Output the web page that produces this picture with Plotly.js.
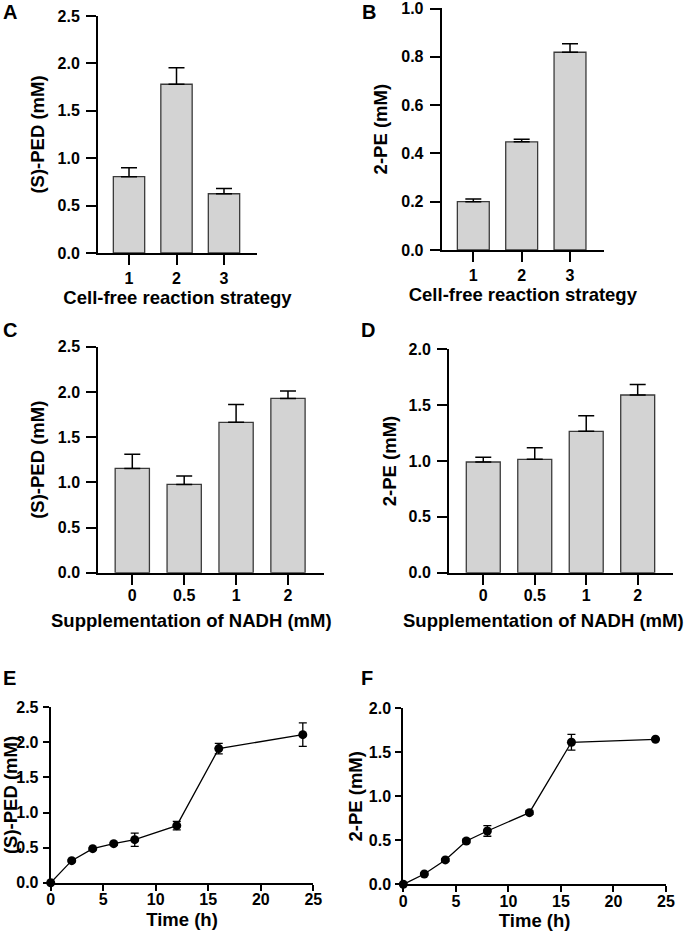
<!DOCTYPE html>
<html>
<head>
<meta charset="utf-8">
<script src="https://cdn.plot.ly/plotly-3.0.1.min.js"></script>
<style>
  html, body { margin: 0; padding: 0; background: #fff; }
  #fig { width: 685px; height: 932px; }
</style>
</head>
<body>
<div id="fig"></div>
<script>
// Panels A/B: cell-free reaction strategy
const strategyCats = ["1", "2", "3"];
const pedStrategy = [0.805, 1.78, 0.625];
const pedStrategySd = [0.095, 0.175, 0.055];
const peStrategy = [0.20, 0.448, 0.819];
const peStrategySd = [0.011, 0.011, 0.035];

// Panels C/D: NADH supplementation (mM)
const nadhCats = ["0", "0.5", "1", "2"];
const pedNadh = [1.154, 0.977, 1.663, 1.928];
const pedNadhSd = [0.155, 0.092, 0.199, 0.082];
const peNadh = [0.991, 1.015, 1.266, 1.591];
const peNadhSd = [0.042, 0.104, 0.14, 0.093];

// Panels E/F: time course
const timeH = [0, 2, 4, 6, 8, 12, 16, 24];
const pedTime = [0, 0.314, 0.485, 0.556, 0.613, 0.813, 1.911, 2.11];
const pedTimeSd = [0, 0.015, 0.015, 0.02, 0.095, 0.06, 0.075, 0.167];
const peTime = [0, 0.117, 0.277, 0.492, 0.606, 0.814, 1.614, 1.648];
const peTimeSd = [0, 0.01, 0.015, 0.02, 0.06, 0.02, 0.09, 0.01];

const W = 685;
const H = 932;
const FONT = "Liberation Sans, Arial, Helvetica, sans-serif";
const BAR_FILL = "#d3d3d3";
const BAR_LINE = "#3a3a3a";
const TICK_SIZE = 16;
const TITLE_SIZE = 18.5;

const tickFont = { family: FONT, size: TICK_SIZE, color: "#000", weight: 700 };
const titleFont = { family: FONT, size: TITLE_SIZE, color: "#000", weight: 700 };

// pixel box -> paper domain
function xDom(x0, x1) { return [x0 / W, x1 / W]; }
function yDom(y0, y1) { return [1 - y1 / H, 1 - y0 / H]; }

function axisBase(extra) {
  return Object.assign({
    showgrid: false,
    zeroline: false,
    showline: true,
    linecolor: "#000",
    linewidth: 2,
    ticks: "outside",
    tickcolor: "#000",
    tickwidth: 2,
    tickfont: tickFont,
    fixedrange: true,
  }, extra);
}

function axTitle(text, standoff) {
  return { text: text, font: titleFont, standoff: standoff };
}

function barTrace(cats, vals, sd, xa, ya) {
  return {
    type: "bar",
    x: cats,
    y: vals,
    xaxis: xa,
    yaxis: ya,
    width: 0.66,
    marker: { color: BAR_FILL, line: { color: BAR_LINE, width: 1.3 } },
    error_y: {
      type: "data",
      symmetric: false,
      array: sd,
      arrayminus: sd.map(function () { return 0; }),
      color: "#000",
      thickness: 1.5,
      width: 8,
    },
  };
}

function lineTrace(x, y, sd, xa, ya) {
  return {
    type: "scatter",
    mode: "lines+markers",
    x: x,
    y: y,
    xaxis: xa,
    yaxis: ya,
    cliponaxis: false,
    line: { color: "#000", width: 1.3 },
    marker: { color: "#000", size: 9 },
    error_y: { type: "data", array: sd, color: "#000", thickness: 1.3, width: 4 },
  };
}

const data = [
  barTrace(strategyCats, pedStrategy, pedStrategySd, "x", "y"),
  barTrace(strategyCats, peStrategy, peStrategySd, "x2", "y2"),
  barTrace(nadhCats, pedNadh, pedNadhSd, "x3", "y3"),
  barTrace(nadhCats, peNadh, peNadhSd, "x4", "y4"),
  lineTrace(timeH, pedTime, pedTimeSd, "x5", "y5"),
  lineTrace(timeH, peTime, peTimeSd, "x6", "y6"),
];

function paperText(text, px, py, size) {
  return {
    text: text, xref: "paper", yref: "paper",
    x: px / W, y: 1 - py / H, xanchor: "center", yanchor: "middle",
    showarrow: false,
    font: { family: FONT, size: size, color: "#000", weight: 700 },
  };
}

const layout = {
  width: W,
  height: H,
  margin: { l: 0, r: 0, t: 0, b: 0 },
  paper_bgcolor: "#fff",
  plot_bgcolor: "rgba(0,0,0,0)",
  showlegend: false,

  // A
  xaxis: axisBase({ anchor: "y", domain: xDom(98, 257), type: "category", range: [-0.653, 2.695],
    ticklen: 10, ticklabelstandoff: 0, title: axTitle("Cell-free reaction strategy", 4) }),
  yaxis: axisBase({ anchor: "x", domain: yDom(16, 253), range: [0, 2.5], dtick: 0.5, tickformat: ".1f",
    ticklen: 10, ticklabelstandoff: 3, title: axTitle("(S)-PED (mM)", 8) }),

  // B
  xaxis2: axisBase({ anchor: "y2", domain: xDom(441.7, 604), type: "category", range: [-0.654, 2.703],
    ticklen: 10, ticklabelstandoff: 0, title: axTitle("Cell-free reaction strategy", 4) }),
  yaxis2: axisBase({ anchor: "x2", domain: yDom(8.3, 250), range: [0, 1.001], dtick: 0.2, tickformat: ".1f",
    ticklen: 10, ticklabelstandoff: 3, title: axTitle("2-PE (mM)", 9) }),

  // C (x title placed as annotation: it sits left of the axis centre)
  xaxis3: axisBase({ anchor: "y3", domain: xDom(98.3, 324), type: "category", range: [-0.655, 3.694],
    ticklen: 10, ticklabelstandoff: -3 }),
  yaxis3: axisBase({ anchor: "x3", domain: yDom(346.7, 572.7), range: [0, 2.5], dtick: 0.5, tickformat: ".1f",
    ticklen: 10, ticklabelstandoff: 3, title: axTitle("(S)-PED (mM)", 8) }),

  // D
  xaxis4: axisBase({ anchor: "y4", domain: xDom(449, 673), type: "category", range: [-0.666, 3.686],
    ticklen: 10, ticklabelstandoff: -3 }),
  yaxis4: axisBase({ anchor: "x4", domain: yDom(349.3, 572.7), range: [0, 2.0], dtick: 0.5, tickformat: ".1f",
    ticklen: 10, ticklabelstandoff: 3, title: axTitle("2-PE (mM)", 7) }),

  // E
  xaxis5: axisBase({ anchor: "y5", domain: xDom(50.7, 313.3), range: [0, 25], dtick: 5,
    ticklen: 6, ticklabelstandoff: -5, title: axTitle("Time (h)", 6) }),
  yaxis5: axisBase({ anchor: "x5", domain: yDom(707.3, 882.7), range: [0, 2.5], dtick: 0.5, tickformat: ".1f",
    ticklen: 6, ticklabelstandoff: 1, title: axTitle("(S)-PED (mM)", 1) }),

  // F
  xaxis6: axisBase({ anchor: "y6", domain: xDom(403.3, 666), range: [0, 25], dtick: 5,
    ticklen: 6, ticklabelstandoff: -5, title: axTitle("Time (h)", 6) }),
  yaxis6: axisBase({ anchor: "x6", domain: yDom(708.3, 884.3), range: [0, 2.0], dtick: 0.5, tickformat: ".1f",
    ticklen: 6, ticklabelstandoff: 1, title: axTitle("2-PE (mM)", 1) }),

  annotations: [
    paperText("A", 10, 12, 20),
    paperText("B", 369, 12, 20),
    paperText("C", 10, 330, 20),
    paperText("D", 368, 330, 20),
    paperText("E", 9, 678, 20),
    paperText("F", 367, 678, 20),
    paperText("Supplementation of NADH (mM)", 191.5, 620, TITLE_SIZE),
    paperText("Supplementation of NADH (mM)", 543, 620, TITLE_SIZE),
  ],
};

Plotly.newPlot("fig", data, layout, { displayModeBar: false, staticPlot: true });
</script>
</body>
</html>
